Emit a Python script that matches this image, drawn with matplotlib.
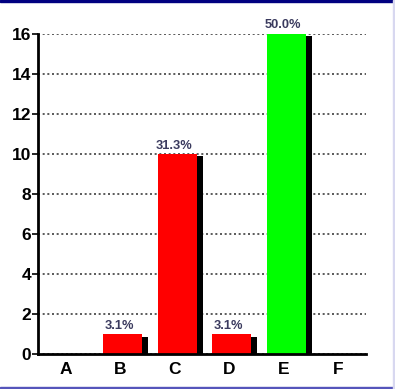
import matplotlib
matplotlib.use("Agg")
import matplotlib.pyplot as plt
from matplotlib.patches import Rectangle

CATEGORIES = ["A", "B", "C", "D", "E", "F"]
COUNTS = [0, 1, 10, 1, 16, 0]
PERCENTS = ["", "3.1%", "31.3%", "3.1%", "50.0%", ""]
COLORS = ["#ff0000", "#ff0000", "#ff0000", "#ff0000", "#00ff00", "#ff0000"]
Y_TICKS = [0, 2, 4, 6, 8, 10, 12, 14, 16]

W, H = 395, 389
fig = plt.figure(figsize=(W / 100, H / 100), dpi=100)
ax = fig.add_axes([38 / W, 1 - 354 / H, 328 / W, 320.5 / H])

x = list(range(len(CATEGORIES)))
decal = 0.045
largeur = 0.713
ombre = 0.11

# ombre portée noire derrière chaque barre
for xi, n in zip(x, COUNTS):
    if n > 0:
        ax.bar(xi + decal + ombre, n - 0.14, width=largeur, bottom=0,
               color="black", zorder=2)
ax.bar([xi + decal for xi in x], COUNTS, width=largeur, color=COLORS, zorder=3)

for xi, n, p in zip(x, COUNTS, PERCENTS):
    if p:
        ax.text(xi - 0.02, n + 0.1, p, ha="center", va="bottom",
                fontsize=9.3, fontweight="bold", color="#3a3a5e",
                family="Liberation Sans")

ax.set_xlim(-0.5, 5.5)
ax.set_ylim(0, 16)
ax.set_xticks(x)
ax.set_xticklabels(CATEGORIES)
ax.set_yticks(Y_TICKS)
ax.tick_params(axis="x", length=0, pad=6)
ax.tick_params(axis="y", length=4, width=1.2, pad=1, direction="out")
for lab in ax.get_xticklabels() + ax.get_yticklabels():
    lab.set_fontfamily("Liberation Sans")
    lab.set_fontweight("bold")
    lab.set_fontsize(12.5)

ax.yaxis.grid(True, color="#404040", linestyle=(0, (1.2, 1.6)), linewidth=1.2, zorder=1)
ax.set_axisbelow(True)
for s in ["top", "right"]:
    ax.spines[s].set_visible(False)
for s in ["left", "bottom"]:
    ax.spines[s].set_linewidth(2)
    ax.spines[s].set_zorder(4)

# cadre de la page
fig.patches.append(Rectangle((0, 1 - 2 / H), 1, 2 / H, transform=fig.transFigure,
                             color="#000080", zorder=0))
fig.patches.append(Rectangle((0, 0), 1, 2.5 / H, transform=fig.transFigure,
                             color="#5555bb", zorder=0))
fig.patches.append(Rectangle((1 - 2 / W, 0), 2 / W, 1, transform=fig.transFigure,
                             color="#d8d8f0", zorder=0))

fig.savefig("out.png", dpi=100)
plt.close(fig)
